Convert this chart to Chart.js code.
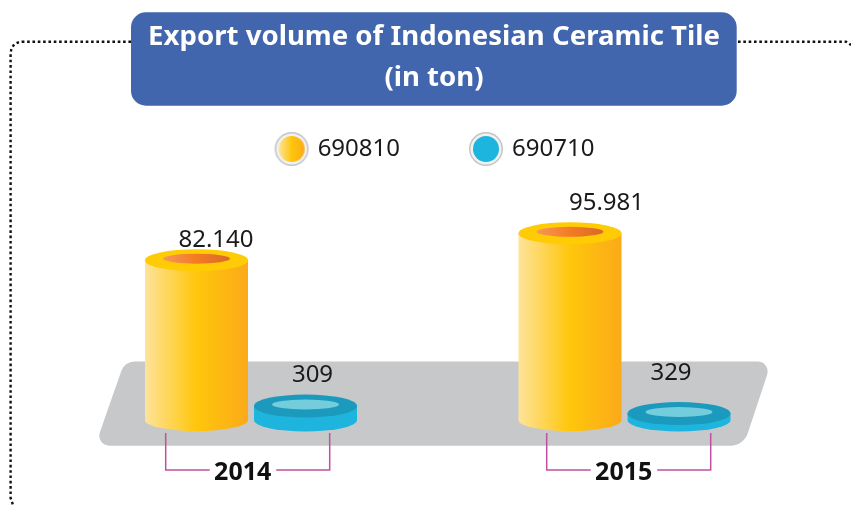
<!DOCTYPE html>
<html>
<head>
<meta charset="utf-8">
<title>Export volume of Indonesian Ceramic Tile</title>
<style>
  html, body { margin: 0; padding: 0; background: #fff; }
  canvas { display: block; }
</style>
<script src="https://cdn.jsdelivr.net/npm/chart.js@4"></script>
</head>
<body>
<canvas id="myChart" width="851" height="505"></canvas>
<script>
var titleLines = ["Export volume of Indonesian Ceramic Tile", "(in ton)"];
var years = ["2014", "2015"];
var seriesNames = ["690810", "690710"];
var values690810 = [82140, 95981];
var values690710 = [309, 329];

var sansFont = "'Noto Sans', sans-serif";

// the small discs are not to scale in the original, they get a minimum height
var minHeights = [[0, 0], [14, 6.5]];
// value labels sit off-centre in the original: [dx, lift above the top]
var labelShift = [
  [[19.5, 20.4], [36.5, 30]],
  [[7, 31], [-8, 40]]
];
// year labels relative to the category centre
var yearShift = [-8.3, -0.8];

var looks = [
  { rx: 51.5, ry: 11, innerRx: 33.5, innerRy: 5, side: ["#fee39a", "#ffc60b", "#fbaa19"], top: "#ffcb05", inner: ["#f6975a", "#f37b22", "#d9692b"] },
  { rx: 51.5, ry: 11.5, innerRx: 33.5, innerRy: 5, side: ["#1db4de", "#1db4de", "#1db4de"], top: "#1c9abd", inner: ["#74cddd", "#74cddd", "#74cddd"] }
];

function hGradient(ctx, x0, x1, colors) {
  var g = ctx.createLinearGradient(x0, 0, x1, 0);
  g.addColorStop(0, colors[0]);
  g.addColorStop(0.5, colors[1]);
  g.addColorStop(1, colors[2]);
  return g;
}

function legendDot(colors) {
  var c = document.createElement("canvas");
  c.width = 36;
  c.height = 36;
  var x = c.getContext("2d");
  x.beginPath();
  x.arc(18, 18, 17, 0, Math.PI * 2);
  x.fillStyle = "#c3c4c6";
  x.fill();
  x.beginPath();
  x.arc(18, 18, 15.5, 0, Math.PI * 2);
  x.fillStyle = "#f1f1f2";
  x.fill();
  x.beginPath();
  x.arc(18, 18, 13, 0, Math.PI * 2);
  x.fillStyle = hGradient(x, 5, 31, colors);
  x.fill();
  return c;
}

function roundedPoly(ctx, pts) {
  var n = pts.length;
  ctx.beginPath();
  ctx.moveTo((pts[0][0] + pts[n - 1][0]) / 2, (pts[0][1] + pts[n - 1][1]) / 2);
  for (var i = 0; i < n; i++) {
    var next = pts[(i + 1) % n];
    ctx.arcTo(pts[i][0], pts[i][1], next[0], next[1], pts[i][2]);
  }
  ctx.closePath();
}

var backdrop = {
  id: "backdrop",
  afterLayout: function(chart) {
    // legend sits a little right of the title centre
    chart.legend.left += 2;
    chart.legend.right += 2;
  },
  beforeDraw: function(chart) {
    var ctx = chart.ctx;
    ctx.save();
    // dotted frame
    ctx.strokeStyle = "#111";
    ctx.lineWidth = 2.4;
    ctx.setLineDash([2.6, 2.73]);
    ctx.beginPath();
    ctx.moveTo(131, 41.7);
    ctx.lineTo(24, 41.7);
    ctx.quadraticCurveTo(10.6, 41.7, 10.6, 55);
    ctx.lineTo(10.6, 498);
    ctx.lineTo(13, 505);
    ctx.stroke();
    ctx.beginPath();
    ctx.moveTo(738, 41.7);
    ctx.lineTo(846, 41.7);
    ctx.lineTo(851, 45);
    ctx.stroke();
    ctx.setLineDash([]);
    // title box
    ctx.fillStyle = "#4166ae";
    ctx.beginPath();
    ctx.roundRect(131, 12.3, 605.7, 93.4, 15);
    ctx.fill();
    ctx.restore();
  },
  beforeDatasetsDraw: function(chart) {
    var ctx = chart.ctx;
    ctx.save();
    ctx.fillStyle = "#c7c8ca";
    roundedPoly(ctx, [[124.6, 361.5, 14], [771.5, 361.5, 10], [743.7, 445.7, 18], [95.2, 445.7, 10]]);
    ctx.fill();
    ctx.restore();
  }
};

var cylinders = {
  id: "cylinders",
  afterDatasetsDraw: function(chart) {
    var ctx = chart.ctx;
    ctx.save();
    chart.data.datasets.forEach(function(ds, d) {
      var look = looks[d];
      chart.getDatasetMeta(d).data.forEach(function(bar, i) {
        var h = Math.max(bar.base - bar.y, minHeights[d][i]);
        var top = bar.base - h;
        var left = bar.x - look.rx;
        var right = bar.x + look.rx;
        ctx.beginPath();
        ctx.moveTo(left, top);
        ctx.lineTo(left, bar.base);
        ctx.ellipse(bar.x, bar.base, look.rx, look.ry, 0, Math.PI, 0, true);
        ctx.lineTo(right, top);
        ctx.closePath();
        ctx.fillStyle = hGradient(ctx, left, right, look.side);
        ctx.fill();
        ctx.beginPath();
        ctx.ellipse(bar.x, top, look.rx, look.ry, 0, 0, Math.PI * 2);
        ctx.fillStyle = look.top;
        ctx.fill();
        ctx.beginPath();
        ctx.ellipse(bar.x, top - 1.5, look.innerRx, look.innerRy, 0, 0, Math.PI * 2);
        ctx.fillStyle = hGradient(ctx, bar.x - look.innerRx, bar.x + look.innerRx, look.inner);
        ctx.fill();
        // value label, dot as thousands mark
        ctx.fillStyle = "#1a1a1a";
        ctx.font = "24px " + sansFont;
        ctx.textAlign = "center";
        ctx.textBaseline = "middle";
        var text = String(ds.data[i]).replace(/\B(?=(\d{3})+$)/g, ".");
        ctx.fillText(text, bar.x + labelShift[d][i][0], top - labelShift[d][i][1]);
      });
    });
    // year labels with their brackets
    var xScale = chart.scales.x;
    years.forEach(function(year, i) {
      var c = xScale.getPixelForTick(i) + yearShift[i];
      ctx.strokeStyle = "#c0509f";
      ctx.lineWidth = 1.5;
      ctx.beginPath();
      ctx.moveTo(c - 77, 433);
      ctx.lineTo(c - 77, 470);
      ctx.lineTo(c - 33, 470);
      ctx.moveTo(c + 33.5, 470);
      ctx.lineTo(c + 87, 470);
      ctx.lineTo(c + 87, 433);
      ctx.stroke();
      ctx.fillStyle = "#111";
      ctx.font = "bold 25px " + sansFont;
      ctx.textAlign = "center";
      ctx.textBaseline = "middle";
      ctx.fillText(year, c, 473);
    });
    ctx.restore();
  }
};

var dots = [legendDot(looks[0].side), legendDot(looks[1].side)];

new Chart(document.getElementById("myChart").getContext("2d"), {
  type: "bar",
  data: {
    labels: years,
    datasets: [
      { label: seriesNames[0], data: values690810, backgroundColor: "transparent", barThickness: 109 },
      { label: seriesNames[1], data: values690710, backgroundColor: "transparent", barThickness: 109 }
    ]
  },
  options: {
    responsive: false,
    animation: false,
    layout: { padding: { left: 56.75, right: 39.75, top: 0, bottom: 85 } },
    plugins: {
      tooltip: { enabled: false },
      title: {
        display: true,
        text: titleLines,
        color: "#ffffff",
        font: { family: sansFont, size: 27.6, weight: "bold", lineHeight: 1.467 },
        // negative bottom: the wide legend padding below would push it too far down
        padding: { top: 17, bottom: -33 }
      },
      legend: {
        display: true,
        position: "top",
        onClick: null,
        labels: {
          usePointStyle: true,
          pointStyleWidth: 28,
          padding: 72,
          color: "#1a1a1a",
          font: { family: sansFont, size: 24 },
          generateLabels: function() {
            return seriesNames.map(function(name, i) {
              return { text: name, pointStyle: dots[i], datasetIndex: i, fontColor: "#1a1a1a", lineWidth: 0 };
            });
          }
        }
      }
    },
    scales: {
      x: { display: false, grid: { display: false } },
      y: {
        display: true,
        min: 0,
        max: 128000,
        afterFit: function(s) { s.width = 7.5; },
        ticks: { display: false },
        grid: { display: false },
        border: { display: false }
      }
    }
  },
  plugins: [backdrop, cylinders]
});
</script>
</body>
</html>
